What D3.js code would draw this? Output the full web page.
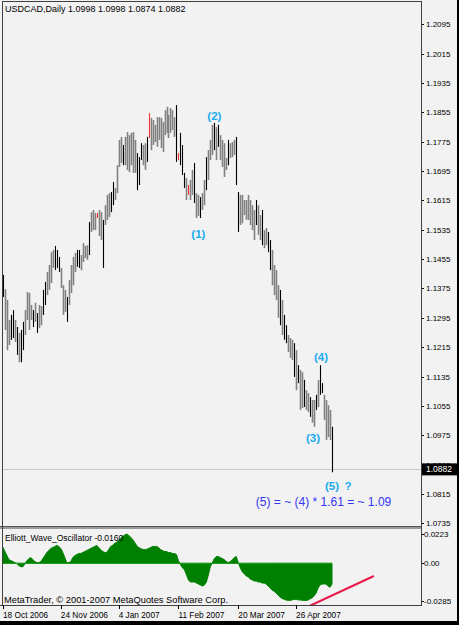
<!DOCTYPE html>
<html><head><meta charset="utf-8">
<script src="https://cdn.jsdelivr.net/npm/d3@7"></script>
<style>body{margin:0;background:#000;} svg{display:block;}</style>
</head><body><svg id="c" width="459" height="625"></svg>
<script>
const symbol = "USDCAD,Daily";
const lastOHLC = [1.0998, 1.0998, 1.0874, 1.0882];
const highs = [
1.1412,1.1373,1.1344,1.1289,1.1303,1.1316,1.1289,1.1270,1.1254,1.1262,
1.1284,1.1316,1.1365,1.1363,1.1330,1.1316,1.1336,1.1308,1.1330,1.1327,
1.1371,1.1393,1.1420,1.1439,1.1474,1.1480,1.1491,1.1480,1.1461,1.1431,
1.1384,1.1371,1.1352,1.1398,1.1439,1.1461,1.1472,1.1480,1.1480,1.1466,
1.1499,1.1491,1.1493,1.1556,1.1583,1.1589,1.1581,1.1581,1.1589,1.1583,
1.1562,1.1602,1.1630,1.1635,1.1638,1.1665,1.1649,1.1711,1.1780,1.1788,
1.1766,1.1788,1.1801,1.1793,1.1799,1.1801,1.1780,1.1744,1.1733,1.1771,
1.1766,1.1771,1.1788,1.1853,1.1840,1.1834,1.1821,1.1842,1.1842,1.1840,
1.1829,1.1861,1.1870,1.1848,1.1867,1.1861,1.1842,1.1875,1.1744,1.1799,
1.1766,1.1690,1.1676,1.1657,1.1671,1.1698,1.1717,1.1635,1.1630,1.1624,
1.1635,1.1671,1.1733,1.1752,1.1780,1.1821,1.1826,1.1815,1.1821,1.1793,
1.1780,1.1771,1.1731,1.1780,1.1771,1.1774,1.1780,1.1788,1.1638,1.1630,
1.1630,1.1616,1.1616,1.1630,1.1616,1.1602,1.1589,1.1616,1.1602,1.1575,
1.1589,1.1534,1.1540,1.1529,1.1507,1.1480,1.1439,1.1425,1.1384,1.1371,
1.1344,1.1303,1.1275,1.1248,1.1240,1.1235,1.1226,1.1207,1.1166,1.1153,
1.1147,1.1126,1.1098,1.1090,1.1079,1.1071,1.1071,1.1085,1.1126,1.1166,
1.1117,1.1085,1.1071,1.1057,1.1044,1.0998];
const lows = [
1.1352,1.1262,1.1207,1.1221,1.1235,1.1240,1.1229,1.1194,1.1174,1.1174,
1.1207,1.1248,1.1289,1.1262,1.1289,1.1270,1.1284,1.1254,1.1267,1.1275,
1.1303,1.1330,1.1357,1.1371,1.1390,1.1431,1.1425,1.1431,1.1420,1.1376,
1.1303,1.1311,1.1284,1.1330,1.1363,1.1384,1.1420,1.1434,1.1431,1.1425,
1.1447,1.1458,1.1453,1.1466,1.1529,1.1534,1.1534,1.1567,1.1518,1.1507,
1.1431,1.1548,1.1562,1.1570,1.1583,1.1602,1.1616,1.1635,1.1706,1.1717,
1.1711,1.1711,1.1698,1.1692,1.1711,1.1690,1.1690,1.1643,1.1657,1.1725,
1.1711,1.1698,1.1720,1.1785,1.1752,1.1766,1.1774,1.1761,1.1780,1.1758,
1.1747,1.1793,1.1799,1.1785,1.1799,1.1807,1.1788,1.1720,1.1725,1.1711,
1.1684,1.1649,1.1616,1.1630,1.1616,1.1630,1.1608,1.1567,1.1573,1.1567,
1.1589,1.1602,1.1643,1.1671,1.1725,1.1739,1.1752,1.1725,1.1761,1.1725,
1.1706,1.1679,1.1698,1.1711,1.1731,1.1733,1.1739,1.1657,1.1529,1.1548,
1.1553,1.1575,1.1562,1.1562,1.1548,1.1534,1.1507,1.1548,1.1521,1.1507,
1.1493,1.1485,1.1493,1.1474,1.1425,1.1384,1.1357,1.1344,1.1295,1.1275,
1.1248,1.1235,1.1226,1.1202,1.1186,1.1180,1.1134,1.1098,1.1117,1.1044,
1.1049,1.1052,1.1044,1.1038,1.1025,1.1009,1.0998,1.1044,1.1052,1.1085,
1.1090,1.1017,1.0962,1.0970,1.0962,1.0874];
// u = up bar, d = down bar, r = doji bar
const barKind = (
  "duuuddudud" + "duuuududuu" + "dduuuudddu" + "uuduuuuddu" +
  "uuuduuuruu" + "duuudduuuu" + "duuuuuuddd" + "uudruuuuuu" +
  "uuuuuuudrd" + "dduruuduud" + "uuduuududu" + "uuuduuuddu" +
  "uuuuuuuduu" + "duudduuuud" + "udduuududu" + "uduuduudud" +
  "duuuud").split("");
const osc = [
0.0120,0.0089,0.0058,0.0027,0.0019,0.0012,0.0004,-0.0004,-0.0019,-0.0027,
-0.0027,-0.0004,0.0019,0.0035,0.0043,0.0027,0.0012,0.0004,0.0004,0.0012,
0.0035,0.0058,0.0082,0.0097,0.0113,0.0120,0.0128,0.0136,0.0128,0.0113,
0.0082,0.0043,0.0004,0.0004,0.0012,0.0043,0.0058,0.0066,0.0074,0.0074,
0.0082,0.0089,0.0097,0.0105,0.0113,0.0120,0.0128,0.0136,0.0120,0.0105,
0.0089,0.0082,0.0082,0.0105,0.0128,0.0136,0.0152,0.0159,0.0175,0.0190,
0.0206,0.0214,0.0223,0.0214,0.0198,0.0183,0.0159,0.0136,0.0120,0.0113,
0.0105,0.0105,0.0105,0.0113,0.0120,0.0128,0.0128,0.0128,0.0120,0.0105,
0.0097,0.0089,0.0089,0.0082,0.0082,0.0074,0.0074,0.0066,0.0019,-0.0012,
-0.0035,-0.0051,-0.0089,-0.0128,-0.0144,-0.0144,-0.0144,-0.0152,-0.0159,-0.0167,
-0.0175,-0.0167,-0.0144,-0.0089,-0.0027,0.0004,0.0035,0.0051,0.0051,0.0043,
0.0035,0.0027,0.0012,0.0004,0.0012,0.0027,0.0043,0.0051,0.0004,-0.0035,
-0.0066,-0.0082,-0.0097,-0.0105,-0.0120,-0.0128,-0.0136,-0.0136,-0.0144,-0.0144,
-0.0152,-0.0152,-0.0159,-0.0175,-0.0190,-0.0206,-0.0214,-0.0229,-0.0245,-0.0260,
-0.0270,-0.0276,-0.0282,-0.0284,-0.0284,-0.0281,-0.0276,-0.0276,-0.0280,-0.0281,
-0.0283,-0.0284,-0.0285,-0.0281,-0.0272,-0.0265,-0.0250,-0.0229,-0.0190,-0.0167,
-0.0159,-0.0159,-0.0159,-0.0175,-0.0183,-0.0160];
const priceTicks = [1.2095,1.2015,1.1935,1.1855,1.1775,1.1695,1.1615,1.1535,1.1455,
                    1.1375,1.1295,1.1215,1.1135,1.1055,1.0975,1.0895,1.0815,1.0735];
const oscTicks = [0.0223, 0, -0.0285];
const oscTickLabels = ["0.0223", "0.00", "-0.0285"];
const dateTickIdx = [0, 29, 58, 88, 118, 147];
const dateTickLabels = ["18 Oct 2006","24 Nov 2006","4 Jan 2007","11 Feb 2007","20 Mar 2007","26 Apr 2007"];
const waveLabels = [
  {text:"(1)", bar:98, price:1.1513},
  {text:"(2)", bar:106, price:1.1834},
  {text:"(3)", bar:155.5, price:1.0957},
  {text:"(4)", bar:159.5, price:1.1177},
  {text:"(5)", bar:165, price:1.0826},
  {text:"?", bar:173, price:1.0826}
];
const note = {text:"(5) = ~ (4) * 1.61 = ~ 1.09", bar:160.75, price:1.0782};
const trendLine = [{bar:154, value:-0.0325}, {bar:186, value:-0.0098}];
const oscName = "Elliott_Wave_Oscillator";
const copyright = "MetaTrader, \u00A9 2001-2007 MetaQuotes Software Corp.";

const W = 459, H = 625;
const L = 2, R = 421, mainTop = 1, mainBot = 526, oscTop = 529, oscBot = 605;
const FONT = "'Liberation Sans', Arial, sans-serif";
const svg = d3.select("#c");
svg.append("rect").attr("width", W).attr("height", H).attr("fill", "#f2f2f2");

const x = d3.scaleLinear().domain([0, highs.length - 1]).range([3, 332]);
const y = d3.scaleLinear().domain([1.0735, 1.2095]).range([523.3, 24.3]);
const yo = d3.scaleLinear().domain([-0.0285, 0.0223]).range([600.5, 534]);

// current price line
svg.append("line").attr("x1", L).attr("x2", R)
  .attr("y1", Math.round(y(lastOHLC[3])) + 0.5).attr("y2", Math.round(y(lastOHLC[3])) + 0.5)
  .attr("stroke", "#c8c8c8").attr("stroke-width", 1);

// bars
const colors = {u: "#808080", d: "#000000", r: "#ff3030"};
svg.append("g").selectAll("line").data(highs).join("line")
  .attr("x1", (d, i) => Math.round(x(i)) + 0.5).attr("x2", (d, i) => Math.round(x(i)) + 0.5)
  .attr("y1", d => y(d)).attr("y2", (d, i) => y(lows[i]))
  .attr("stroke", (d, i) => colors[barKind[i]] || "#808080")
  .attr("stroke-width", (d, i) => barKind[i] === "u" ? 1.6 : 1.1);

// title
svg.append("text").attr("x", 5).attr("y", 12).attr("font-family", FONT).attr("font-size", 9)
  .attr("fill", "#000").text(symbol + "  " + lastOHLC.map(v => v.toFixed(4)).join(" "));

// wave labels
svg.append("g").selectAll("text").data(waveLabels).join("text")
  .attr("x", d => x(d.bar)).attr("y", d => y(d.price)).attr("text-anchor", "middle")
  .attr("font-family", FONT).attr("font-size", 11.5).attr("font-weight", "bold")
  .attr("fill", "#1aabf0").text(d => d.text);
svg.append("text").attr("x", x(note.bar)).attr("y", y(note.price)).attr("text-anchor", "middle")
  .attr("font-family", FONT).attr("font-size", 12).attr("fill", "#3535f5").text(note.text);

// price axis
const pa = svg.append("g");
pa.selectAll("line").data(priceTicks).join("line")
  .attr("x1", R).attr("x2", R + 3).attr("y1", d => Math.round(y(d)) + 0.5).attr("y2", d => Math.round(y(d)) + 0.5)
  .attr("stroke", "#000");
pa.selectAll("text").data(priceTicks).join("text")
  .attr("x", 426).attr("y", d => y(d) + 3).attr("font-family", FONT).attr("font-size", 8)
  .attr("fill", "#000").text(d => d.toFixed(4));
// last price box
const ly = y(lastOHLC[3]);
svg.append("rect").attr("x", 422).attr("y", ly - 6).attr("width", 35).attr("height", 12).attr("fill", "#000");
svg.append("text").attr("x", 426).attr("y", ly + 3).attr("font-family", FONT).attr("font-size", 8.5)
  .attr("fill", "#fff").text(lastOHLC[3].toFixed(4));

// separator between panels
svg.append("rect").attr("x", 0).attr("y", mainBot).attr("width", R + 1).attr("height", oscTop - mainBot).attr("fill", "#9a9a9a");
svg.append("line").attr("x1", 0).attr("x2", R).attr("y1", mainBot + 0.5).attr("y2", mainBot + 0.5).attr("stroke", "#555");

// oscillator
svg.append("clipPath").attr("id", "oc").append("rect")
  .attr("x", L).attr("y", oscTop).attr("width", R - L).attr("height", oscBot - oscTop);
const og = svg.append("g").attr("clip-path", "url(#oc)");
og.append("path").datum(osc)
  .attr("d", d3.area().x((d, i) => x(i)).y0(yo(0)).y1(d => yo(d)).curve(d3.curveLinear))
  .attr("fill", "#008000").attr("stroke", "#008000").attr("stroke-width", 1);
og.append("line").attr("x1", x(0)).attr("x2", x(osc.length - 1))
  .attr("y1", Math.round(yo(0)) + 0.5).attr("y2", Math.round(yo(0)) + 0.5).attr("stroke", "#1a9a1a");
og.append("line")
  .attr("x1", x(trendLine[0].bar)).attr("y1", yo(trendLine[0].value))
  .attr("x2", x(trendLine[1].bar)).attr("y2", yo(trendLine[1].value))
  .attr("stroke", "#e8184a").attr("stroke-width", 2);

svg.append("text").attr("x", 5).attr("y", 541).attr("font-family", FONT).attr("font-size", 8.5)
  .attr("fill", "#000").text(oscName + " " + osc[osc.length - 1].toFixed(4));
const oa = svg.append("g");
oa.selectAll("line").data(oscTicks).join("line")
  .attr("x1", R).attr("x2", R + 3).attr("y1", d => Math.round(yo(d)) + 0.5).attr("y2", d => Math.round(yo(d)) + 0.5)
  .attr("stroke", "#000");
oa.selectAll("text").data(oscTicks).join("text")
  .attr("x", 424).attr("y", d => yo(d) + 3).attr("font-family", FONT).attr("font-size", 8)
  .attr("fill", "#000").text((d, i) => oscTickLabels[i]);

svg.append("text").attr("x", 4).attr("y", 603).attr("font-family", FONT).attr("font-size", 9.3)
  .attr("fill", "#000").text(copyright);

// frame
svg.append("line").attr("x1", L + 0.5).attr("x2", L + 0.5).attr("y1", mainTop).attr("y2", oscBot).attr("stroke", "#404040");
svg.append("line").attr("x1", L).attr("x2", R).attr("y1", mainTop + 0.5).attr("y2", mainTop + 0.5).attr("stroke", "#404040");
svg.append("line").attr("x1", R + 0.5).attr("x2", R + 0.5).attr("y1", mainTop).attr("y2", oscBot).attr("stroke", "#404040");
svg.append("line").attr("x1", 0).attr("x2", R + 1).attr("y1", oscBot + 0.5).attr("y2", oscBot + 0.5).attr("stroke", "#404040");

// date axis
const da = svg.append("g");
da.selectAll("line").data(dateTickIdx).join("line")
  .attr("x1", d => Math.round(x(d)) + 0.5).attr("x2", d => Math.round(x(d)) + 0.5)
  .attr("y1", oscBot).attr("y2", oscBot + 4).attr("stroke", "#000");
da.selectAll("text").data(dateTickIdx).join("text")
  .attr("x", d => x(d)).attr("y", 618).attr("font-family", FONT).attr("font-size", 8.3)
  .attr("fill", "#000").text((d, i) => dateTickLabels[i]);

// window edges
svg.append("rect").attr("x", 457).attr("y", 0).attr("width", 2).attr("height", H).attr("fill", "#000");
svg.append("rect").attr("x", 0).attr("y", 621).attr("width", W).attr("height", 4).attr("fill", "#000");
</script></body></html>
